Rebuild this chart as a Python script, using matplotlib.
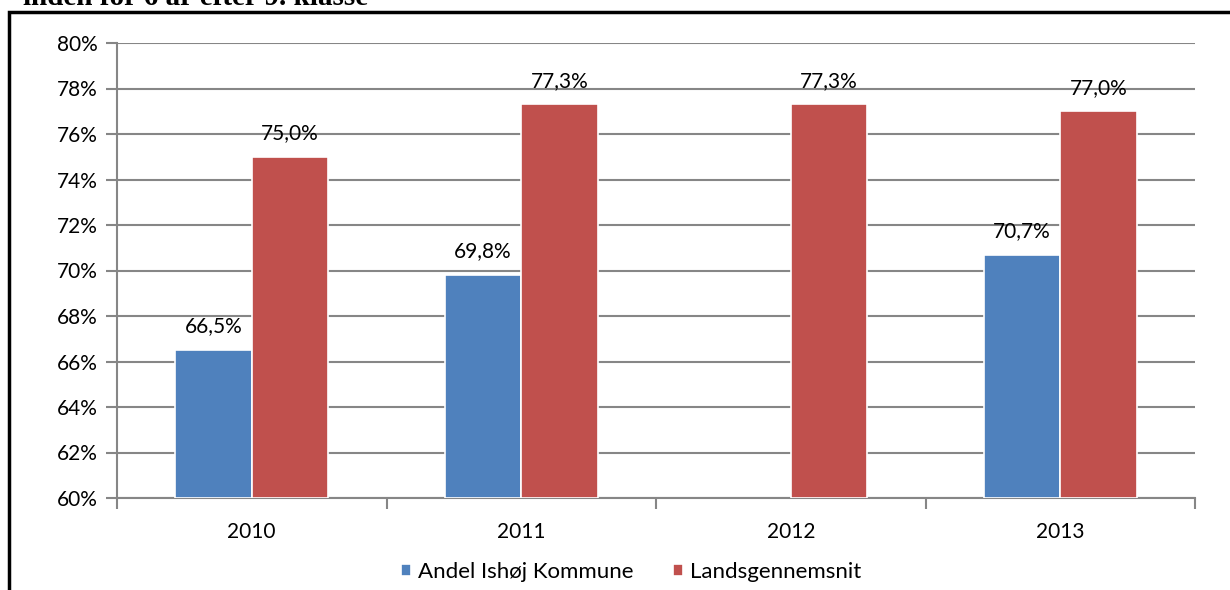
import numpy as np
import matplotlib.pyplot as plt
from matplotlib.patches import Rectangle

plt.rcParams['font.family'] = ['Lato', 'DejaVu Sans']

aar = ["2010", "2011", "2012", "2013"]
ishoej = [66.5, 69.8, np.nan, 70.7]
lands = [75.0, 77.3, 77.3, 77.0]
serier = ["Andel Ishøj Kommune", "Landsgennemsnit"]
farver = ["#4F81BD", "#C0504D"]

fig = plt.figure(figsize=(12.3, 5.9), dpi=100)

# ramme rundt om diagrammet (fortsætter ud over kanten til højre og nederst)
fig.patches.append(Rectangle((9 / 1230, -0.05), 1.1, 1 - 12 / 590 + 0.05,
                             transform=fig.transFigure, fill=False,
                             edgecolor="black", linewidth=2.5, zorder=0))
fig.text(23 / 1230, 1 - 5 / 590, "inden for 6 år efter 9. klasse",
         family="Liberation Serif", fontweight="bold", fontsize=21,
         va="baseline", ha="left")

ax = fig.add_axes([117 / 1230, 1 - 498 / 590, (1195 - 117) / 1230, (498 - 43) / 590])

x = np.arange(len(aar))
b = 0.283
for i, (vals, farve) in enumerate(zip([ishoej, lands], farver)):
    pos = x - b / 2 + i * b
    ax.bar(pos, np.array(vals) - 60, bottom=60, width=b, color=farve,
           edgecolor="white", linewidth=1.2, zorder=3, label=serier[i])
    for p, v in zip(pos, vals):
        if np.isnan(v):
            continue
        ax.text(p, v + 0.6, f"{v:.1f}%".replace(".", ","), ha="center",
                va="bottom", fontsize=15)

ax.set_ylim(60, 80)
ax.set_xlim(-0.5, len(aar) - 0.5)
yt = np.arange(60, 81, 2)
ax.set_yticks(yt)
ax.set_yticklabels([f"{v}%" for v in yt], fontsize=15)
ax.yaxis.grid(True, color="#868686", linewidth=1.5, zorder=0)
ax.set_xticks(x)
ax.set_xticklabels(aar, fontsize=15)
ax.set_xticks(np.arange(-0.5, len(aar)), minor=True)
ax.tick_params(axis="x", which="major", length=0, pad=17)
ax.tick_params(axis="x", which="minor", length=8, width=1.5, color="#868686")
ax.tick_params(axis="y", length=8, width=1.5, color="#868686", pad=6)

for s in ["top", "right"]:
    ax.spines[s].set_visible(False)
for s in ["left", "bottom"]:
    ax.spines[s].set_color("#868686")
    ax.spines[s].set_linewidth(1.5)

fig.legend(*ax.get_legend_handles_labels(), loc="center",
           bbox_to_anchor=(631 / 1230, 1 - 572 / 590), ncol=2, frameon=False,
           fontsize=16, handlelength=0.45, handleheight=0.45, columnspacing=1.8,
           handletextpad=0.3, borderpad=0)

fig.savefig("out.png", dpi=100)
